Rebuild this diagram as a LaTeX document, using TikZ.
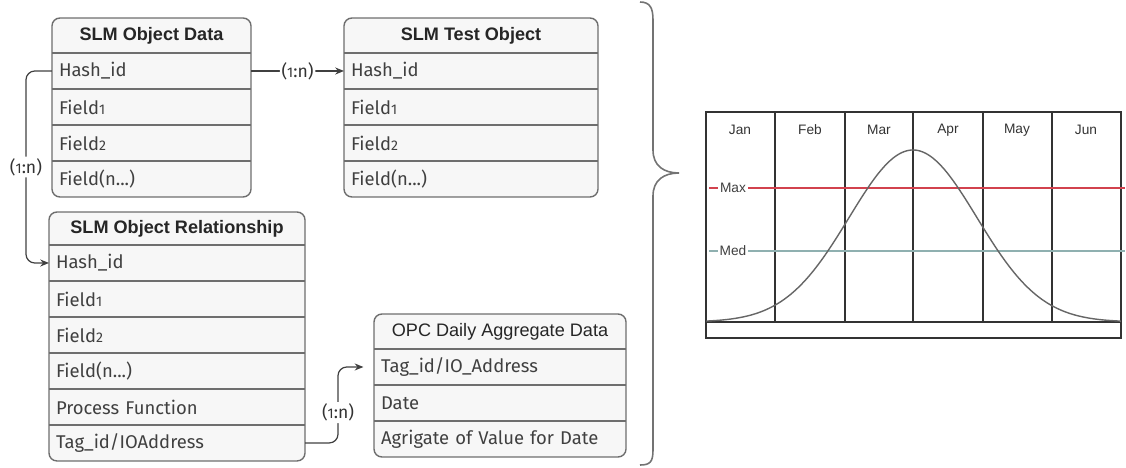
\documentclass[tikz,border=0pt]{standalone}
\usepackage{fontspec}
\setmainfont{Liberation Sans}
\newfontfamily\rowfont{Fira Sans}
\usepackage{xcolor}
\usetikzlibrary{arrows.meta,positioning,fit,backgrounds}
\definecolor{boxline}{HTML}{6E6E6E}
\definecolor{maxred}{HTML}{D2424E}
\definecolor{medteal}{HTML}{8FB0B0}
\newcommand\smalldig[1]{{\fontsize{8}{9}\selectfont#1}}

\begin{document}
\begin{tikzpicture}[x=0.02cm, y=-0.02cm,
  tbl/.style={draw=boxline, line width=0.8pt, rounded corners=4.5pt, fill=black!3, inner sep=0pt},
  hdr/.style={font=\fontsize{10.3}{12}\selectfont\bfseries, text=black!85,
              minimum height=0.7cm, inner sep=0pt, outer sep=0pt},
  row/.style={font=\rowfont\fontsize{10.5}{12}\selectfont, text=black!75, minimum height=0.72cm,
              text width=#1, align=left, inner xsep=4pt, inner ysep=0pt, outer sep=0pt},
  sep/.style={draw=boxline, line width=0.7pt},
  link/.style={draw=black!75, line width=0.7pt, rounded corners=5pt, -{Stealth[length=5pt,width=4pt]}},
  lbl/.style={font=\rowfont\fontsize{10}{12}\selectfont, text=black!80, fill=white, inner sep=1pt},
  chart/.style={draw=black!80, line width=0.6pt},
  month/.style={font=\fontsize{7.8}{9}\selectfont, text=black!80},
  lvl/.style={font=\fontsize{7.8}{9}\selectfont, text=black!75, fill=white, inner sep=1pt},
]
\useasboundingbox (0,0) rectangle (1126,467);

% SLM Object Data
\node[hdr, minimum width=3.98cm, anchor=north] (odH) at (151.5,18) {SLM Object Data};
\node[row=3.7cm, below=0pt of odH] (odHash) {Hash\_id};
\node[row=3.7cm, below=0pt of odHash] (odFa) {Field\smalldig{1}};
\node[row=3.7cm, below=0pt of odFa] (odFb) {Field\smalldig{2}};
\node[row=3.7cm, below=0pt of odFb] (odN) {Field(n...)};

% SLM Test Object
\node[hdr, minimum width=5.08cm, anchor=north] (toH) at (471,18) {SLM Test Object};
\node[row=4.8cm, below=0pt of toH] (toHash) {Hash\_id};
\node[row=4.8cm, below=0pt of toHash] (toFa) {Field\smalldig{1}};
\node[row=4.8cm, below=0pt of toFa] (toFb) {Field\smalldig{2}};
\node[row=4.8cm, below=0pt of toFb] (toN) {Field(n...)};

% SLM Object Relationship
\node[hdr, minimum width=5.12cm, minimum height=0.66cm, anchor=north] (orH) at (177,212) {SLM Object Relationship};
\node[row=4.84cm, below=0pt of orH] (orHash) {Hash\_id};
\node[row=4.84cm, below=0pt of orHash] (orFa) {Field\smalldig{1}};
\node[row=4.84cm, below=0pt of orFa] (orFb) {Field\smalldig{2}};
\node[row=4.84cm, below=0pt of orFb] (orN) {Field(n...)};
\node[row=4.84cm, below=0pt of orN] (orPF) {Process Function};
\node[row=4.84cm, below=0pt of orPF] (orTag) {Tag\_id/IOAddress};

% OPC Daily Aggregate Data
\node[hdr, font=\fontsize{10.3}{12}\selectfont, minimum width=5.04cm, anchor=north] (opH) at (500,314) {OPC Daily Aggregate Data};
\node[row=4.76cm, below=0pt of opH] (opTag) {Tag\_id/IO\_Address};
\node[row=4.76cm, below=0pt of opTag] (opDate) {Date};
\node[row=4.76cm, below=0pt of opDate] (opAgg) {Agrigate of Value for Date};

\begin{scope}[on background layer]
\node[tbl, fit=(odH)(odN)] (odBox) {};
\node[tbl, fit=(toH)(toN)] (toBox) {};
\node[tbl, fit=(orH)(orTag)] (orBox) {};
\node[tbl, fit=(opH)(opAgg)] (opBox) {};
\end{scope}
\foreach \r in {odHash,odFa,odFb,odN,toHash,toFa,toFb,toN,orHash,orFa,orFb,orN,orPF,orTag,opTag,opDate,opAgg}
  \draw[sep] (\r.north west) -- (\r.north east);

% Relationships
\draw[link] (odHash.east) -- node[lbl]{(\smalldig{1}:n)} (toHash.west);
\draw[link] (odHash.west) -- ++(-26,0) |- node[lbl, pos=0.25]{(\smalldig{1}:n)} (orHash.west);
\draw[link, shorten >=6pt] (orTag.east) -- ++(33,0) |- node[lbl, pos=0.2]{(\smalldig{1}:n)} (opTag.west);

% Brace
\draw[draw=black!55, line width=0.9pt] (640,2) .. controls (650,2) and (653,8) .. (653,20) -- (653,150)
  .. controls (653,166) and (664,173) .. (679,173) .. controls (664,173) and (653,180) .. (653,196)
  -- (653,450) .. controls (653,462) and (650,465) .. (640,465);

% Chart
\draw[chart] (706,112) rectangle (1121,338);
\draw[chart] (706,322) -- (1121,322);
\foreach \x in {775,845,913,983,1052}
  \draw[chart] (\x,112) -- (\x,322);
\foreach \x/\m in {740/Jan,810/Feb,879/Mar,948/Apr,1017/May,1086/Jun}
  \node[month] (m\m) at (\x,130) {\m};
\draw[maxred, line width=0.7pt] (709,188) -- (1125,188);
\draw[medteal, line width=0.7pt] (709,251) -- (1125,251);
\node[lvl] (maxL) at (733,188) {Max};
\node[lvl] (medL) at (733,251) {Med};
\draw[black!60, line width=0.8pt] plot[domain=-3.23:3.25, samples=90, smooth] ({913+64*\x}, {322-172*exp(-0.5*\x*\x)});
\end{tikzpicture}
\end{document}
